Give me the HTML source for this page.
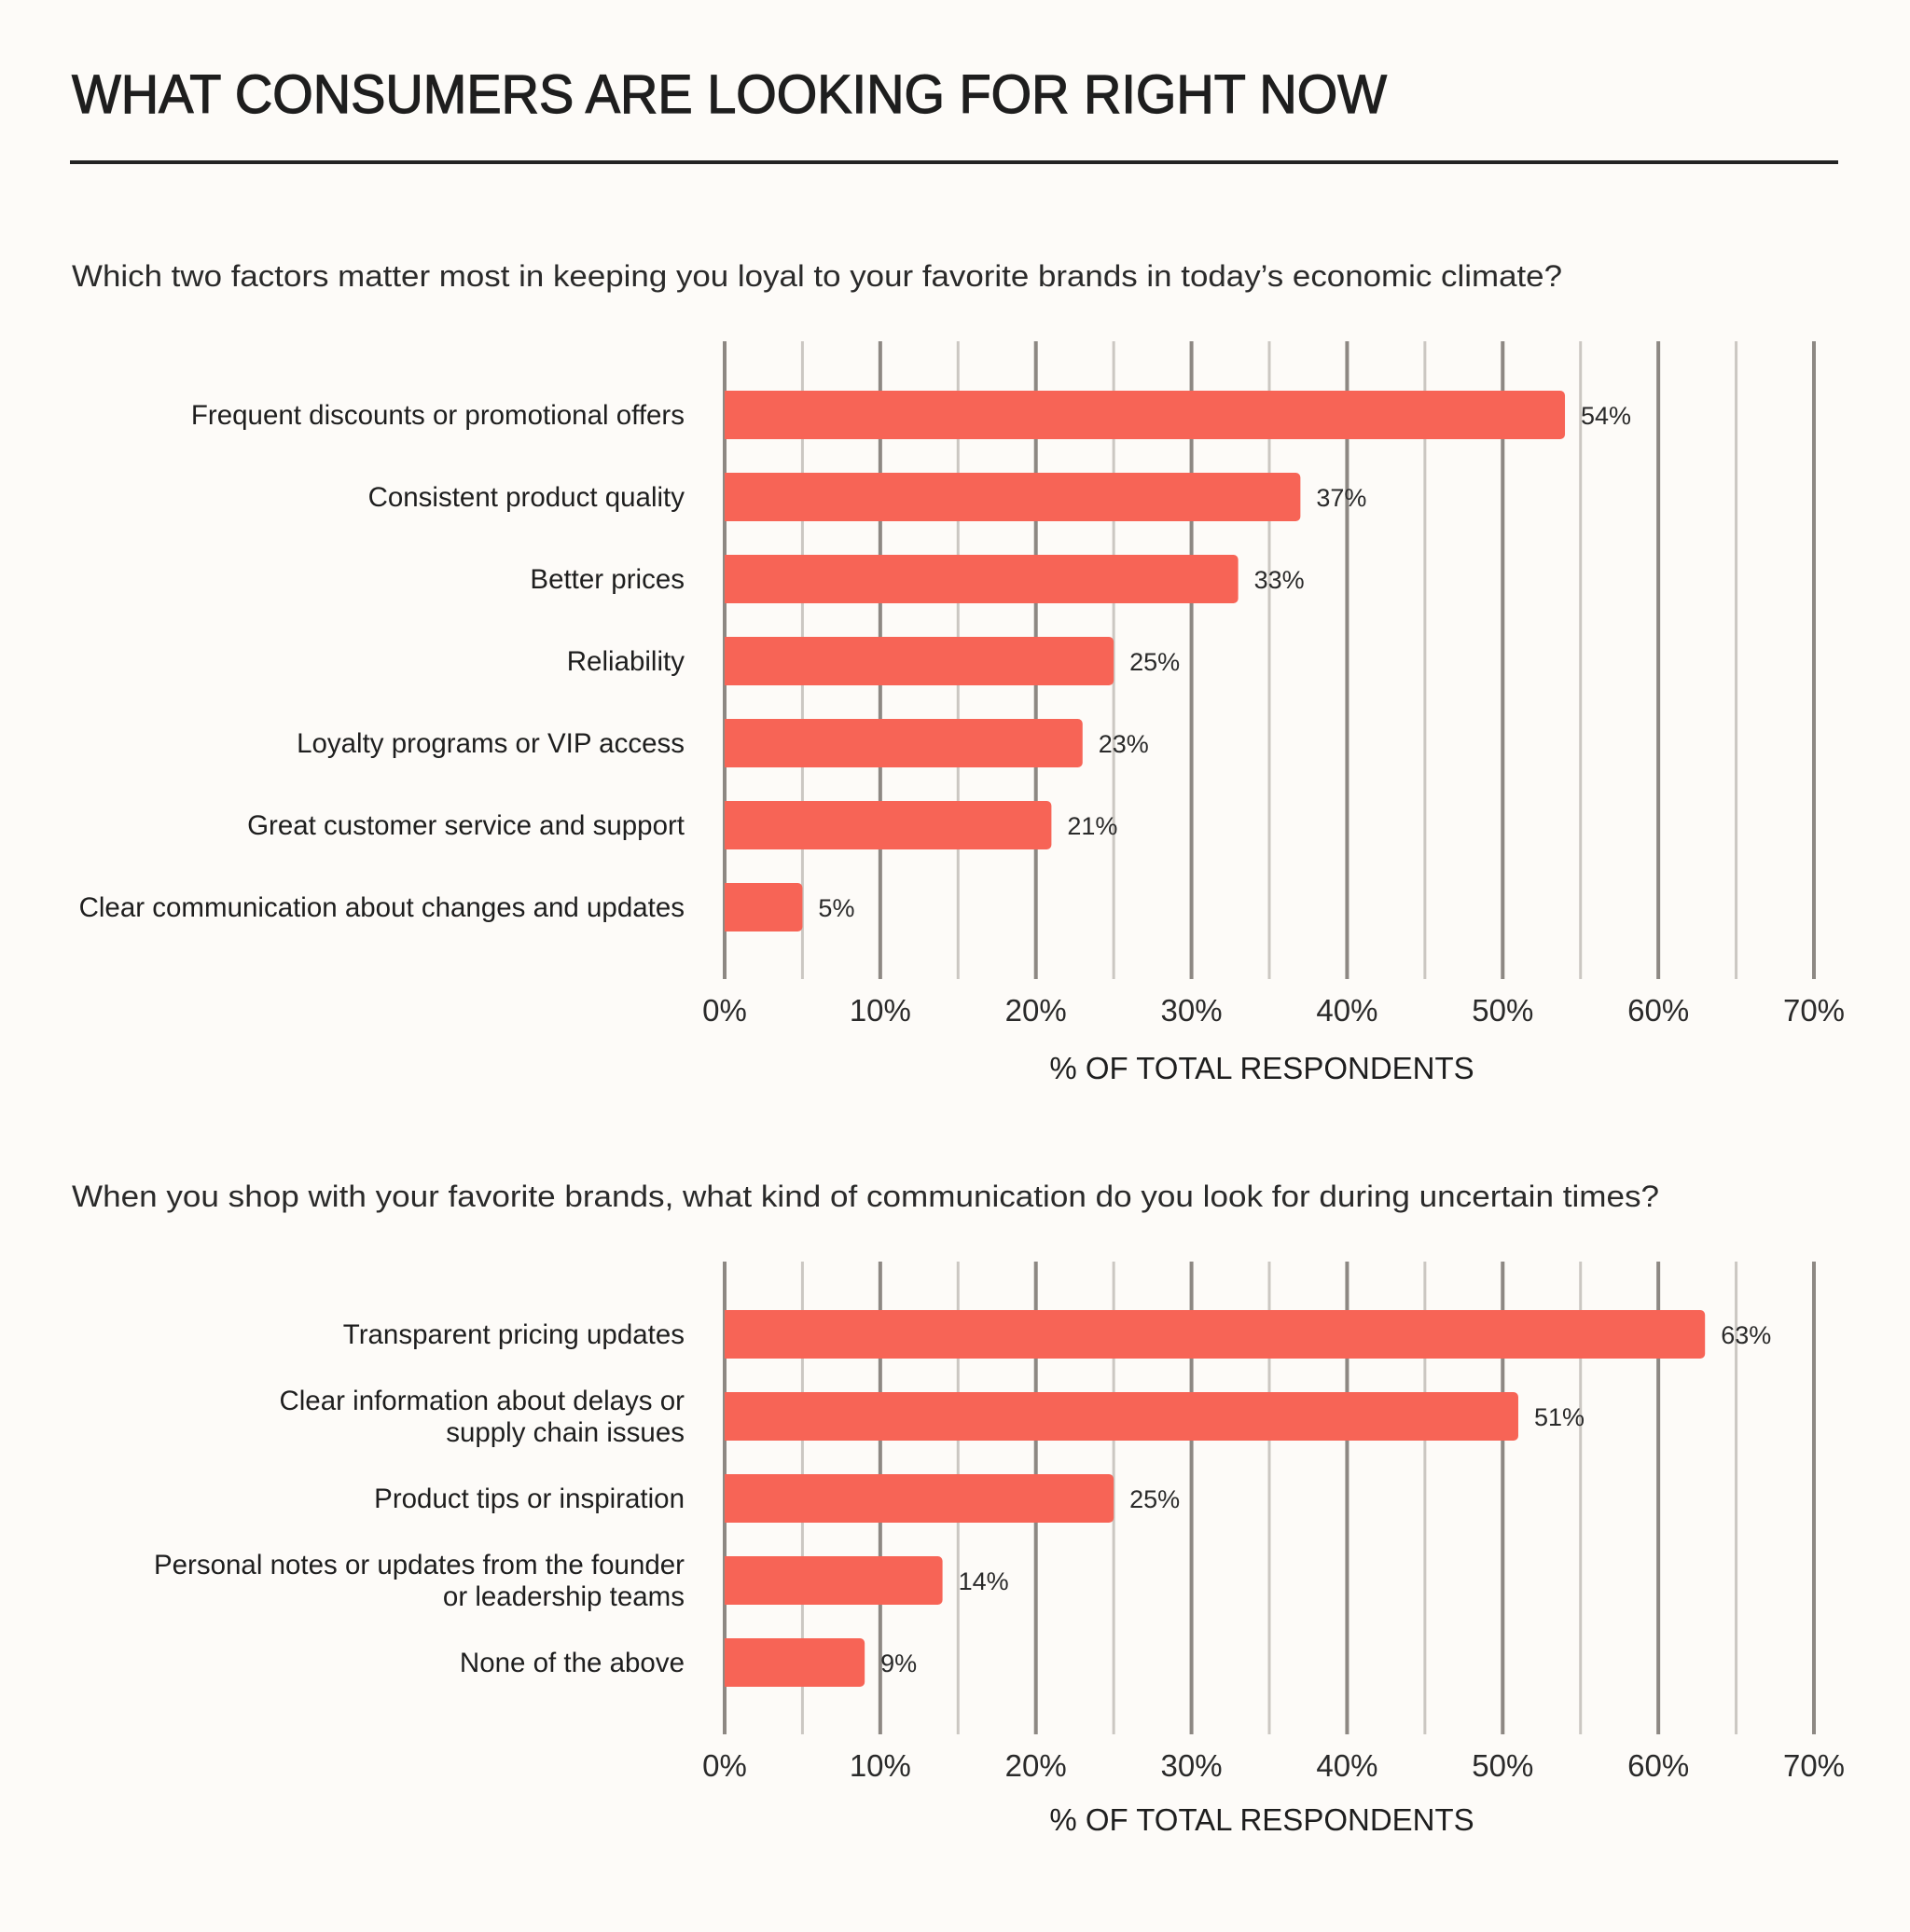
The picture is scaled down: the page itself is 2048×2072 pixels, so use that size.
<!DOCTYPE html>
<html><head><meta charset="utf-8">
<style>
html,body{margin:0;padding:0;background:#fdfbf8;}
svg{display:block;font-family:"Liberation Sans",sans-serif;}
</style></head>
<body>
<svg id="c" width="2048" height="2072" viewBox="0 0 2048 2072">
<rect width="2048" height="2072" fill="#fdfbf8"/>
<text x="77" y="121" font-size="58" fill="#1e1e1e" stroke="#1e1e1e" stroke-width="1.2" textLength="1410" lengthAdjust="spacingAndGlyphs">WHAT CONSUMERS ARE LOOKING FOR RIGHT NOW</text>
<rect x="75" y="172" width="1896" height="4" fill="#242424"/>
<text x="77" y="307" font-size="32" fill="#2a2a2a" textLength="1598" lengthAdjust="spacingAndGlyphs">Which two factors matter most in keeping you loyal to your favorite brands in today’s economic climate?</text>
<text x="77" y="1294" font-size="32" fill="#2a2a2a" textLength="1702" lengthAdjust="spacingAndGlyphs">When you shop with your favorite brands, what kind of communication do you look for during uncertain times?</text>
</svg>
<script>
const chart1Categories = [["Frequent discounts or promotional offers"],["Consistent product quality"],["Better prices"],["Reliability"],["Loyalty programs or VIP access"],["Great customer service and support"],["Clear communication about changes and updates"]];
const chart1Values = [54,37,33,25,23,21,5];
const chart2Categories = [["Transparent pricing updates"],["Clear information about delays or","supply chain issues"],["Product tips or inspiration"],["Personal notes or updates from the founder","or leadership teams"],["None of the above"]];
const chart2Values = [63,51,25,14,9];
const tickValues = [0,10,20,30,40,50,60,70];
const tickLabels = ["0%","10%","20%","30%","40%","50%","60%","70%"];

const svg = document.getElementById('c');
const NS = 'http://www.w3.org/2000/svg';
const X0 = 777, X70 = 1945;
function xScale(v){ return X0 + (X70 - X0) * v / 70; }
function mk(tag, attrs){ const e = document.createElementNS(NS, tag); for (const k in attrs) e.setAttribute(k, attrs[k]); svg.appendChild(e); return e; }

function drawChart(prefix, cats, vals, gTop, gBot, firstCenter, step, tickY, titleY){
  for (let v = 0; v <= 70; v += 5){
    const major = v % 10 === 0;
    const l = mk('line', {x1:xScale(v), x2:xScale(v), y1:gTop, y2:gBot, stroke: major ? '#8d8883' : '#cbc7c2', 'stroke-width': major ? 4 : 3});
    
    
  }
  vals.forEach((v, i) => {
    const cy = firstCenter + i * step;
    const w = xScale(v) - X0;
    const p = mk('path', {fill:'#f76456', d:`M${X0},${cy-26} h${w-5} a5,5 0 0 1 5,5 v42 a5,5 0 0 1 -5,5 h${-(w-5)} z`});
    
    
    const vl = mk('text', {x: xScale(v) + 17, y: cy + 10, 'font-size': 27, fill:'#2a2a2a'});
    vl.textContent = v + '%';
    
    
    const lines = cats[i];
    lines.forEach((ln, j) => {
      const yy = cy + 10 + (j - (lines.length - 1) / 2) * 34;
      const t = mk('text', {x: 734, y: yy, 'font-size': 29.5, fill:'#1e1e1e', 'text-anchor':'end'});
      t.textContent = ln;
      
      
    });
  });
  tickValues.forEach((v, i) => {
    const t = mk('text', {x: xScale(v), y: tickY, 'font-size': 33, fill:'#2a2a2a', 'text-anchor':'middle'});
    t.textContent = tickLabels[i];
    
    
  });
  const at = mk('text', {x: 1353, y: titleY, 'font-size': 33, fill:'#1e1e1e', 'text-anchor':'middle'});
  at.textContent = '% OF TOTAL RESPONDENTS';
  
  
}
drawChart('loyalty', chart1Categories, chart1Values, 366, 1050, 445, 88, 1095, 1157);
drawChart('communication', chart2Categories, chart2Values, 1353, 1860, 1431, 88, 1905, 1963);
</script>
</body></html>
